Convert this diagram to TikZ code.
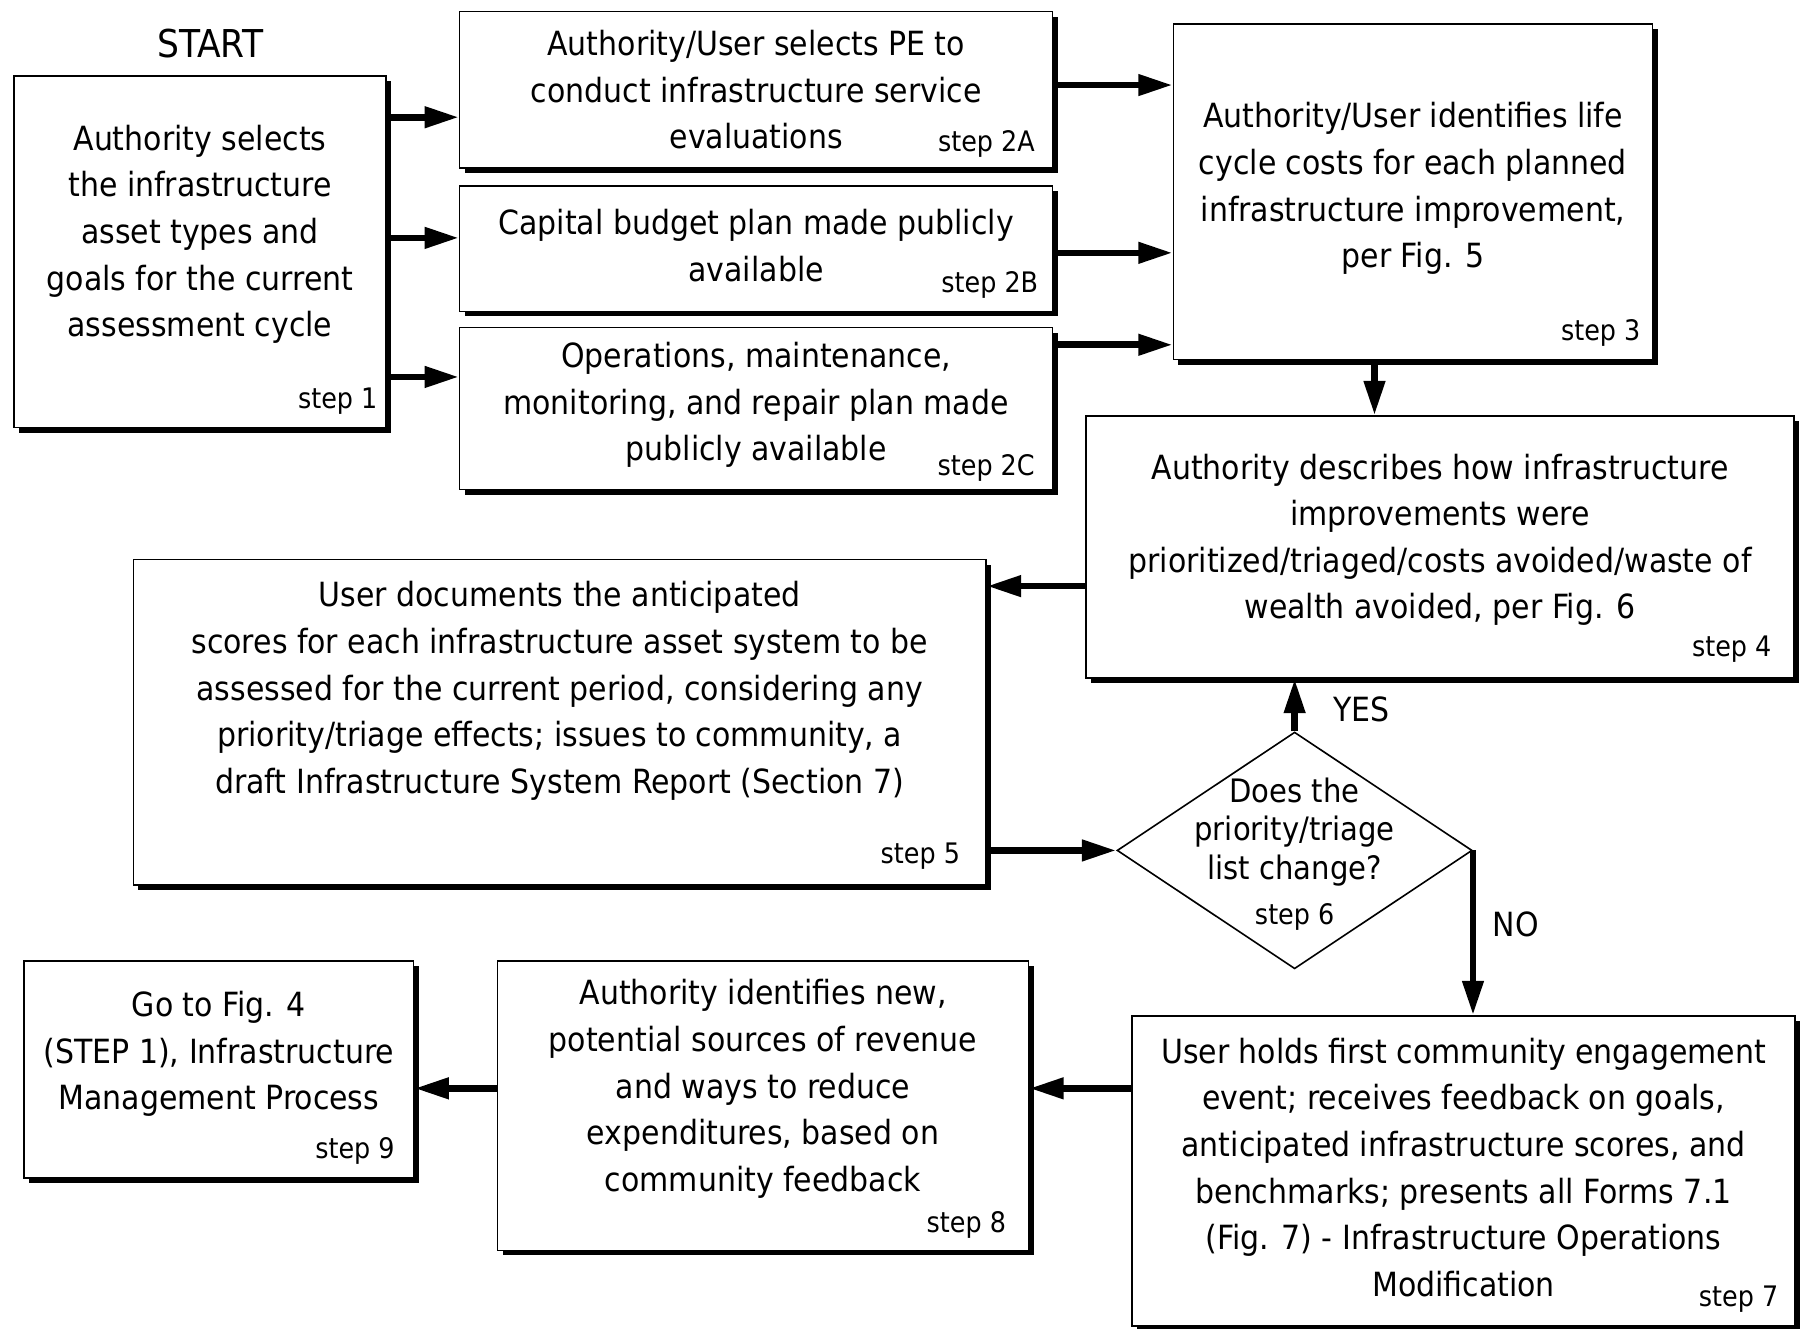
\documentclass[tikz,border=0pt]{standalone}
\usepackage{fontspec}
\setmainfont{DejaVu Sans Condensed}
\usetikzlibrary{positioning,shapes.geometric,arrows.meta,shadows}

\tikzset{
  box/.style={draw,line width=0.75pt,fill=white,align=center,inner sep=2pt,
    drop shadow={shadow xshift=2.5pt,shadow yshift=-2.5pt,fill=black,opacity=1},
    font=\fontsize{16.5}{23.1}\selectfont},
  sz/.style 2 args={minimum width=#1*0.02cm,minimum height=#2*0.02cm},
  decision/.style={diamond,draw,line width=0.8pt,fill=white,inner sep=0pt},
  qtext/.style={align=center,font=\fontsize{16}{19}\selectfont},
  steplbl/.style={font=\fontsize{14}{16}\selectfont,anchor=base east,inner sep=0pt},
  lbl/.style={font=\fontsize{16.5}{20}\selectfont},
  arr/.style={line width=3.3pt,-{Triangle[length=17pt,width=10pt]}},
}

\begin{document}
\begin{tikzpicture}[x=0.02cm,y=-0.02cm]
\useasboundingbox (0,0) rectangle (1568,1156);

\node[lbl,font=\fontsize{19}{22}\selectfont] (start) at (183,38) {START};
\node[box,sz={324}{306},text depth=20.6pt] (s1) at (174,219) {Authority selects\\the infrastructure\\asset types and\\goals for the current\\assessment cycle};
\node[box,sz={516}{136}] (s2a) at (658,78) {Authority/User selects PE to\\conduct infrastructure service\\evaluations};
\node[box,sz={516}{109},text depth=3.5pt] (s2b) at (658,216.5) {Capital budget plan made publicly\\available};
\node[box,sz={516}{141},text depth=7pt] (s2c) at (658,355.5) {Operations, maintenance,\\monitoring, and repair plan made\\publicly available};
\node[box,sz={417}{292},text depth=6.6pt] (s3) at (1229.5,167) {Authority/User identifies life\\cycle costs for each planned\\infrastructure improvement,\\per Fig. 5};
\node[box,sz={616}{228},text depth=10.6pt] (s4) at (1253,476) {Authority describes how infrastructure\\improvements were\\prioritized/triaged/costs avoided/waste of\\wealth avoided, per Fig. 6};
\node[box,sz={742}{283},text depth=34.5pt] (s5) at (487,628.5) {User documents the anticipated\\scores for each infrastructure asset system to be\\assessed for the current period, considering any\\priority/triage effects; issues to community, a\\draft Infrastructure System Report (Section 7)};
\node[decision,sz={309}{206}] (s6) at (1126.5,740) {};
\node[qtext] (q6) at ([shift={(0,-16)}]s6.center) {Does the\\priority/triage\\list change?};
\node[box,sz={577}{270},text depth=4pt] (s7) at (1273.5,1019) {User holds first community engagement\\event; receives feedback on goals,\\anticipated infrastructure scores, and\\benchmarks; presents all Forms 7.1\\(Fig. 7) - Infrastructure Operations\\Modification};
\node[box,sz={462}{252},text depth=20pt] (s8) at (664,962) {Authority identifies new,\\potential sources of revenue\\and ways to reduce\\expenditures, based on\\community feedback};
\node[box,sz={339}{189},text depth=18.6pt] (s9) at (190.5,930.5) {Go to Fig. 4\\(STEP 1), Infrastructure\\Management Process};

% step numbers
\node[steplbl] (n1) at ([shift={(-8,-17)}]s1.south east) {step 1};
\node[steplbl] (n2a) at ([shift={(-16,-15)}]s2a.south east) {step 2A};
\node[steplbl] (n2b) at ([shift={(-13,-17)}]s2b.south east) {step 2B};
\node[steplbl] (n2c) at ([shift={(-16,-13)}]s2c.south east) {step 2C};
\node[steplbl] (n3) at ([shift={(-11,-17)}]s3.south east) {step 3};
\node[steplbl] (n4) at ([shift={(-20,-19)}]s4.south east) {step 4};
\node[steplbl] (n5) at ([shift={(-23,-19)}]s5.south east) {step 5};
\node[steplbl,anchor=base] (n6) at ([shift={(0,-39)}]s6.south) {step 6};
\node[steplbl] (n7) at ([shift={(-15,-18)}]s7.south east) {step 7};
\node[steplbl] (n8) at ([shift={(-20,-16)}]s8.south east) {step 8};
\node[steplbl] (n9) at ([shift={(-17,-18)}]s9.south east) {step 9};

% connectors
\draw[arr] (s1.east |- 0,102) -- (s2a.west |- 0,102);
\draw[arr] (s1.east |- 0,207) -- (s2b.west |- 0,207);
\draw[arr] (s1.east |- 0,328) -- (s2c.west |- 0,328);
\draw[arr] (s2a.east |- 0,74) -- (s3.west |- 0,74);
\draw[arr] (s2b.east |- 0,220) -- (s3.west |- 0,220);
\draw[arr] (s2c.east |- 0,300) -- (s3.west |- 0,300);
\draw[arr] (s3.south -| 1196,0) -- (s4.north -| 1196,0);
\draw[arr] (s4.west |- 0,510) -- (s5.east |- 0,510);
\draw[arr] (s5.east |- s6.west) -- (s6.west);
\draw[arr] (s6.north) -- (s6.north |- s4.south) node[lbl,pos=0.42,right=0.5cm] {YES};
\draw[arr] (s6.east) -- (s6.east |- s7.north) node[lbl,pos=0.45,right=0.17cm] {NO};
\draw[arr] (s7.west |- 0,947) -- (s8.east |- 0,947);
\draw[arr] (s8.west |- 0,947) -- (s9.east |- 0,947);
\end{tikzpicture}
\end{document}
